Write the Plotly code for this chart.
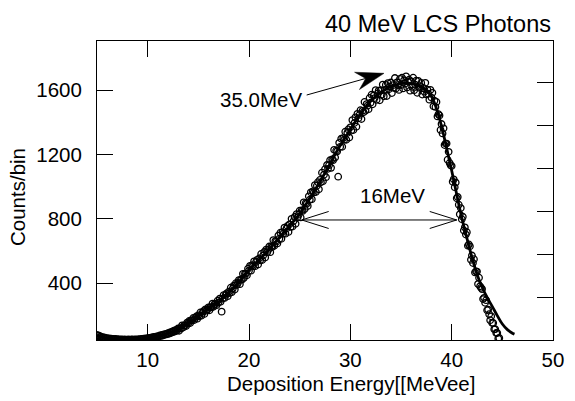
import numpy as np
import plotly.graph_objects as go

# ---------------- data ----------------
first_bin = 5.0      # MeV, first bin centre
bin_width = 0.1      # MeV
counts_by_mev = [
    [78, 70, 73, 64, 66, 60, 63, 57, 60, 54],                       # 5.x
    [57, 52, 55, 50, 54, 49, 53, 48, 52, 47],                       # 6.x
    [51, 47, 50, 46, 49, 48, 46, 50, 45, 48],                       # 7.x
    [46, 49, 45, 48, 47, 50, 44, 48, 49, 46],                       # 8.x
    [50, 47, 51, 48, 52, 49, 54, 50, 55, 52],                       # 9.x
    [57, 54, 59, 57, 62, 59, 65, 61, 67, 65],                       # 10.x
    [70, 66, 74, 71, 77, 73, 81, 78, 84, 81],                       # 11.x
    [88, 84, 93, 89, 98, 94, 104, 99, 109, 104],                    # 12.x
    [117, 103, 119, 117, 137, 123, 137, 136, 132, 154],             # 13.x
    [148, 164, 151, 168, 167, 183, 170, 183, 192, 178],             # 14.x
    [199, 193, 217, 197, 213, 225, 208, 236, 228, 236],             # 15.x
    [249, 230, 250, 248, 272, 253, 270, 268, 262, 290],             # 16.x
    [280, 302, 283, 222, 303, 325, 307, 326, 336, 318],             # 17.x
    [346, 338, 371, 343, 366, 384, 359, 399, 388, 400],             # 18.x
    [418, 393, 422, 421, 457, 432, 458, 457, 448, 489],             # 19.x
    [477, 507, 477, 511, 505, 535, 505, 531, 544, 515],             # 20.x
    [553, 541, 581, 543, 571, 593, 558, 608, 592, 606],             # 21.x
    [627, 592, 627, 624, 667, 632, 661, 657, 646, 695],             # 22.x
    [676, 713, 675, 716, 708, 745, 707, 739, 755, 718],             # 23.x
    [765, 749, 799, 751, 785, 811, 768, 829, 809, 825],             # 24.x
    [850, 808, 852, 848, 902, 860, 897, 893, 879, 939],             # 25.x
    [918, 964, 921, 970, 963, 1009, 966, 1005, 1027, 983],          # 26.x
    [1041, 1026, 1086, 1033, 1074, 1108, 1058, 1134, 1110, 1133],   # 27.x
    [1164, 1116, 1168, 1164, 1228, 1180, 1223, 1218, 1061, 1272],   # 28.x
    [1247, 1297, 1247, 1301, 1291, 1341, 1291, 1333, 1355, 1305],   # 29.x
    [1368, 1348, 1413, 1351, 1395, 1430, 1372, 1452, 1424, 1445],   # 30.x
    [1475, 1420, 1471, 1462, 1526, 1471, 1513, 1503, 1481, 1551],   # 31.x
    [1521, 1571, 1511, 1566, 1550, 1600, 1539, 1579, 1597, 1536],   # 32.x
    [1599, 1571, 1634, 1561, 1601, 1632, 1563, 1643, 1605, 1622],   # 33.x
    [1647, 1581, 1630, 1613, 1675, 1609, 1648, 1630, 1601, 1670],   # 34.x
    [1631, 1677, 1610, 1661, 1639, 1685, 1616, 1651, 1664, 1596],   # 35.x
    [1654, 1620, 1677, 1599, 1633, 1658, 1583, 1657, 1614, 1625],   # 36.x
    [1644, 1572, 1614, 1590, 1645, 1573, 1603, 1577, 1540, 1601],   # 37.x
    [1553, 1583, 1499, 1534, 1495, 1526, 1436, 1450, 1442, 1352],   # 38.x
    [1389, 1330, 1362, 1258, 1267, 1267, 1167, 1216, 1147, 1133],   # 39.x
    [1127, 1029, 1045, 996, 1025, 927, 935, 887, 827, 866],         # 40.x
    [797, 812, 727, 746, 701, 716, 632, 640, 628, 544],             # 41.x
    [571, 524, 548, 466, 472, 471, 394, 433, 380, 370],             # 42.x
    [362, 300, 308, 277, 293, 231, 235, 206, 169, 193],             # 43.x
    [152, 152, 112, 113, 89, 89, 55, 58],                           # 44.0-44.7
]

fit_energy = [5, 5.5, 6, 6.5, 7, 7.5, 8, 8.5, 9, 9.5, 10, 10.5, 11, 11.5, 12,
              12.5, 13, 13.5, 14, 14.5, 15, 15.5, 16, 16.5, 17, 17.5, 18, 18.5,
              19, 19.5, 20, 20.5, 21, 21.5, 22, 22.5, 23, 23.5, 24, 24.5, 25,
              25.5, 26, 26.5, 27, 27.5, 28, 28.5, 29, 29.5, 30, 30.5, 31, 31.5,
              32, 32.5, 33, 33.5, 34, 34.5, 35, 35.5, 36, 36.5, 37, 37.5, 38,
              38.5, 39, 39.5, 40, 40.5, 41, 41.5, 42, 42.5, 43, 43.5, 44, 44.5,
              45, 45.5, 46, 46.2]
fit_counts = [75, 62, 55, 51, 49, 48, 47, 47, 48, 51, 55, 61, 68, 76, 85,
              97, 110, 129, 150, 172, 195, 217, 240, 261, 283, 311, 340, 372,
              405, 443, 482, 513, 545, 577, 610, 646, 682, 718, 755, 792, 830,
              877, 925, 977, 1030, 1085, 1140, 1200, 1255, 1305, 1355, 1405, 1450, 1492,
              1530, 1560, 1585, 1605, 1620, 1632, 1640, 1644, 1640, 1631, 1617, 1596, 1562,
              1485, 1375, 1240, 1100, 950, 805, 680, 560, 455, 375, 310, 255, 197,
              145, 110, 88, 82]

x_ticks = [10, 20, 30, 40, 50]
y_ticks = [400, 800, 1200, 1600]
right_ticks = [313, 580, 846, 1112, 1378, 1644]

peak_label = "35.0MeV"
peak_label_pos = (21.23, 1544)
peak_arrow_tail = (25.69, 1569)
peak_arrow_tip = (33.32, 1704)

fwhm_label = "16MeV"
fwhm_label_pos = (34.21, 947)
fwhm_left = 25.2
fwhm_right = 40.5
fwhm_level = 792

# ---------------- layout geometry ----------------
W, H = 575, 401
ML, MR, MT, MB = 97, 22, 41, 61
X0, X1 = 5, 50
Y0, Y1 = 45.6, 1905
pw, ph = W - ML - MR, H - MT - MB
sx = (X1 - X0) / pw
sy = (Y1 - Y0) / ph

counts = [v for row in counts_by_mev for v in row]
energy = np.round(first_bin + bin_width * np.arange(len(counts)), 2)

FONT = "Liberation Sans, Arial, Helvetica, sans-serif"

fig = go.Figure()
fig.add_trace(go.Scatter(x=fit_energy, y=fit_counts, mode="lines",
                         line=dict(color="black", width=2.8, shape="spline"),
                         hoverinfo="skip", showlegend=False))
fig.add_trace(go.Scatter(x=energy, y=counts, mode="markers",
                         marker=dict(symbol="circle-open", size=6.5, color="black",
                                     line=dict(color="black", width=1.3)),
                         showlegend=False))
# dummy trace for the right-hand axis
fig.add_trace(go.Scatter(x=[None], y=[None], yaxis="y2", showlegend=False))


def to_data(base, dpx, dpy):
    """offset a data point by (dpx, dpy) pixels, dpy positive upward"""
    return base[0] + dpx * sx, base[1] + dpy * sy


shapes = []
# peak arrow with filled barbed head
tx, ty = peak_arrow_tip
ux = (peak_arrow_tip[0] - peak_arrow_tail[0]) / sx
uy = (peak_arrow_tip[1] - peak_arrow_tail[1]) / sy
n = np.hypot(ux, uy)
ux, uy = ux / n, uy / n
nx, ny = -uy, ux
HL, HW, NOTCH = 28, 9, 19
p1 = to_data(peak_arrow_tip, -HL * ux + HW * nx, -HL * uy + HW * ny)
p2 = to_data(peak_arrow_tip, -NOTCH * ux, -NOTCH * uy)
p3 = to_data(peak_arrow_tip, -HL * ux - HW * nx, -HL * uy - HW * ny)
shapes.append(dict(type="line", xref="x", yref="y",
                   x0=peak_arrow_tail[0], y0=peak_arrow_tail[1], x1=p2[0], y1=p2[1],
                   line=dict(color="black", width=1)))
shapes.append(dict(type="path", xref="x", yref="y",
                   path=f"M{tx},{ty} L{p1[0]},{p1[1]} L{p2[0]},{p2[1]} L{p3[0]},{p3[1]} Z",
                   fillcolor="black", line=dict(color="black", width=0.5)))

# FWHM double arrow with open heads
shapes.append(dict(type="line", xref="x", yref="y", x0=fwhm_left, y0=fwhm_level,
                   x1=fwhm_right, y1=fwhm_level, line=dict(color="black", width=1)))
BL, BW = 27, 8.5
for tip, d in (((fwhm_left, fwhm_level), 1), ((fwhm_right, fwhm_level), -1)):
    a = to_data(tip, d * BL, BW)
    b = to_data(tip, d * BL, -BW)
    shapes.append(dict(type="path", xref="x", yref="y",
                       path=f"M{a[0]},{a[1]} L{tip[0]},{tip[1]} L{b[0]},{b[1]}",
                       line=dict(color="black", width=1)))

annotations = [
    dict(text=peak_label, x=peak_label_pos[0], y=peak_label_pos[1], xref="x", yref="y",
         showarrow=False, font=dict(size=20.5, color="black", family=FONT)),
    dict(text=fwhm_label, x=fwhm_label_pos[0], y=fwhm_label_pos[1], xref="x", yref="y",
         showarrow=False, font=dict(size=20.5, color="black", family=FONT)),
    dict(text="40 MeV LCS Photons", xref="paper", yref="paper", x=1.0, y=(MT + ph - 24) / ph,
         xanchor="right", yanchor="middle", showarrow=False,
         font=dict(size=23.5, color="black", family=FONT)),
    dict(text="Deposition Energy[[MeVee]", xref="paper", yref="paper",
         x=(351 - ML) / pw, y=(MT + ph - 384) / ph, xanchor="center", yanchor="middle",
         showarrow=False, font=dict(size=20.5, color="black", family=FONT)),
    dict(text="Counts/bin", xref="paper", yref="paper", textangle=-90,
         x=(17.5 - ML) / pw, y=(MT + ph - 197.5) / ph, xanchor="center", yanchor="middle",
         showarrow=False, font=dict(size=20.5, color="black", family=FONT)),
]

fig.update_layout(
    width=W, height=H,
    margin=dict(l=ML, r=MR, t=MT, b=MB, pad=0),
    paper_bgcolor="white", plot_bgcolor="white",
    font=dict(family=FONT, size=20.5, color="black"),
    showlegend=False,
    shapes=shapes,
    annotations=annotations,
    xaxis=dict(range=[X0, X1], tickvals=x_ticks, ticks="inside", ticklen=16,
               tickwidth=1, tickcolor="black", showline=True, linecolor="black",
               linewidth=1, mirror="ticks", showgrid=False, zeroline=False,
               automargin=False, ticklabelstandoff=1,
               tickfont=dict(size=20.5, family=FONT, color="black")),
    yaxis=dict(range=[Y0, Y1], tickvals=y_ticks, ticks="inside", ticklen=16,
               tickwidth=1, tickcolor="black", showline=True, linecolor="black",
               linewidth=1, mirror=True, showgrid=False, zeroline=False,
               automargin=False, ticklabelstandoff=10,
               tickfont=dict(size=20.5, family=FONT, color="black")),
    yaxis2=dict(range=[Y0, Y1], overlaying="y", side="right", tickvals=right_ticks,
                ticks="inside", ticklen=16, tickwidth=1, tickcolor="black",
                showticklabels=False, showline=False, showgrid=False, zeroline=False,
                automargin=False),
)

fig.write_html("out.html",
               config={"displayModeBar": False},
               post_script="document.body.style.margin='0';"
                           "document.body.style.overflow='hidden';")
